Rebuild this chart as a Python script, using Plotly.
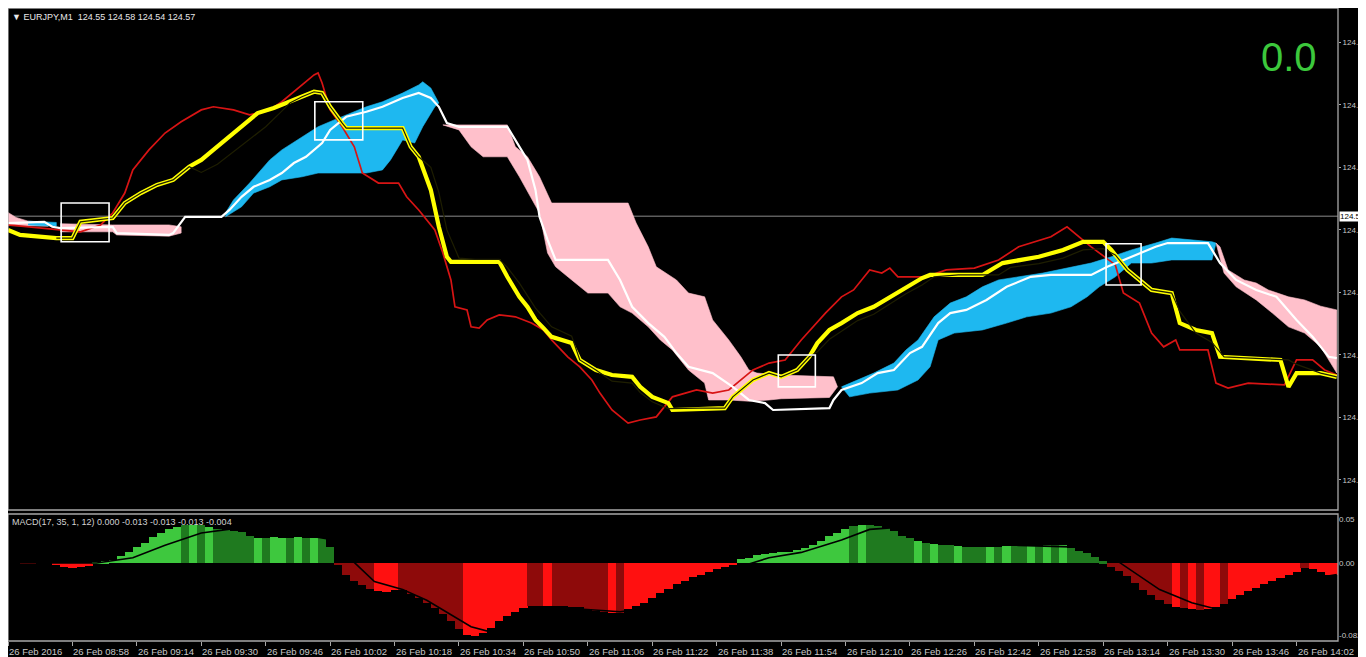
import plotly.graph_objects as go

# the page body has an 8px margin; the figure starts at (8, 8) of the window
OFF = 8
W, H = 1366 - OFF, 657 - OFF

# ---------------- time axis (minutes after 08:42, M1 bars) ----------------
tick_minutes = [0, 16, 32, 48, 64, 80, 96, 112, 128, 144, 160, 176, 192, 208, 224, 240, 256, 272, 288, 304, 320]
tick_labels = ["26 Feb 2016", "26 Feb 08:58", "26 Feb 09:14", "26 Feb 09:30", "26 Feb 09:46",
               "26 Feb 10:02", "26 Feb 10:18", "26 Feb 10:34", "26 Feb 10:50", "26 Feb 11:06",
               "26 Feb 11:22", "26 Feb 11:38", "26 Feb 11:54", "26 Feb 12:10", "26 Feb 12:26",
               "26 Feb 12:42", "26 Feb 12:58", "26 Feb 13:14", "26 Feb 13:30", "26 Feb 13:46",
               "26 Feb 14:02"]
price_ticks = [124.1, 124.2, 124.3, 124.4, 124.5, 124.6, 124.7, 124.8]
price_tick_text = ["124.1", "124.2", "124.3", "124.4", "124.5", "124.6", "124.7", "124.8"]
macd_ticks = [0.05, 0.0, -0.082]
macd_tick_text = ["0.05", "0.00", "-0.082"]
bid_price = 124.522

# ---------------- red line ----------------
red_t = [0, 8, 13, 18, 23, 26, 29, 31, 35, 39, 43, 48, 51, 56, 60, 65, 68, 73, 76, 77, 78, 80, 83, 86, 88,
         92, 97, 99, 102, 106, 108, 110, 111, 114, 115, 117, 119, 122, 126, 130, 133, 135, 139, 142, 145,
         147, 150, 154, 157, 161, 163, 165, 171, 175, 179, 182, 185, 189, 193, 197, 200, 203, 207, 210,
         214, 217, 219, 221, 228, 233, 240, 246, 251, 259, 263, 266, 269, 275, 277, 281, 284, 287, 290,
         291, 298, 300, 303, 308, 317, 320, 324, 327, 330]
red_p = [124.508, 124.503, 124.500, 124.497, 124.508, 124.527, 124.559, 124.596, 124.628, 124.655, 124.673,
         124.692, 124.697, 124.692, 124.684, 124.692, 124.705, 124.732, 124.748, 124.751, 124.735, 124.692,
         124.665, 124.633, 124.591, 124.575, 124.575, 124.553, 124.532, 124.500, 124.463, 124.420, 124.377,
         124.372, 124.345, 124.343, 124.356, 124.364, 124.361, 124.351, 124.340, 124.324, 124.297, 124.281,
         124.260, 124.239, 124.212, 124.191, 124.196, 124.201, 124.217, 124.233, 124.244, 124.239, 124.244,
         124.260, 124.276, 124.287, 124.292, 124.324, 124.345, 124.367, 124.393, 124.404, 124.436, 124.431,
         124.439, 124.425, 124.425, 124.436, 124.439, 124.452, 124.473, 124.489, 124.505, 124.489, 124.473,
         124.444, 124.399, 124.383, 124.335, 124.313, 124.324, 124.308, 124.308, 124.255, 124.247, 124.255,
         124.252, 124.292, 124.292, 124.276, 124.268]

# ---------------- thick yellow line ----------------
yel_t = [0, 3, 12, 16, 18, 26, 29, 33, 37, 41, 45, 48, 51, 55, 58, 62, 66, 69, 73, 76, 78, 80, 83, 84, 98,
         100, 102, 105, 107, 109, 110, 122, 124, 127, 129, 131, 133, 135, 140, 142, 146, 150, 155, 157, 160,
         164, 165, 178, 180, 182, 185, 189, 192, 196, 199, 201, 204, 207, 211, 215, 220, 223, 227, 229, 242,
         247, 256, 262, 267, 272, 274, 278, 281, 284, 289, 291, 295, 299, 301, 309, 316, 318, 320, 326, 330]
yel_p = [124.500, 124.492, 124.487, 124.487, 124.513, 124.519, 124.543, 124.559, 124.572, 124.580, 124.601,
         124.612, 124.628, 124.649, 124.665, 124.687, 124.695, 124.703, 124.713, 124.721, 124.719, 124.697,
         124.671, 124.663, 124.663, 124.633, 124.617, 124.564, 124.505, 124.457, 124.449, 124.449, 124.425,
         124.393, 124.377, 124.356, 124.343, 124.329, 124.319, 124.292, 124.276, 124.268, 124.265, 124.249,
         124.233, 124.223, 124.212, 124.215, 124.233, 124.244, 124.260, 124.271, 124.265, 124.276, 124.297,
         124.319, 124.340, 124.351, 124.367, 124.377, 124.396, 124.409, 124.423, 124.428, 124.428, 124.447,
         124.457, 124.468, 124.481, 124.481, 124.468, 124.436, 124.420, 124.404, 124.399, 124.351, 124.340,
         124.335, 124.297, 124.295, 124.292, 124.249, 124.271, 124.271, 124.265]

# ---------------- thin dark line (shows as a dark core where it runs on the yellow line) ----------------
kij_t = [12, 16, 18, 26, 29, 33, 37, 41, 45, 48, 52, 56, 60, 64, 68, 70, 73, 76, 78, 80, 83, 84, 98, 100,
         102, 105, 107, 109, 112, 116, 122, 124, 127, 129, 131, 133, 135, 140, 142, 146, 150, 155, 157, 160,
         164, 172, 178, 180, 182, 185, 189, 192, 196, 199, 201, 204, 207, 211, 215, 220, 223, 227, 230, 236,
         246, 249, 256, 262, 267, 272, 275, 278, 281, 284, 289, 291, 295, 299, 302, 309, 316, 318, 320, 326, 330]
kij_p = [124.487, 124.487, 124.513, 124.519, 124.543, 124.559, 124.572, 124.580, 124.601, 124.592, 124.605,
         124.625, 124.645, 124.665, 124.690, 124.703, 124.713, 124.721, 124.719, 124.697, 124.671, 124.663,
         124.663, 124.633, 124.617, 124.600, 124.560, 124.500, 124.455, 124.453, 124.453, 124.440, 124.415,
         124.395, 124.375, 124.360, 124.345, 124.330, 124.292, 124.276, 124.258, 124.255, 124.240, 124.225,
         124.214, 124.215, 124.215, 124.233, 124.244, 124.260, 124.271, 124.265, 124.276, 124.297, 124.305,
         124.325, 124.338, 124.355, 124.365, 124.385, 124.398, 124.412, 124.425, 124.428, 124.428, 124.440,
         124.446, 124.455, 124.468, 124.470, 124.460, 124.436, 124.420, 124.404, 124.399, 124.370, 124.335,
         124.320, 124.297, 124.295, 124.292, 124.292, 124.285, 124.271, 124.265]

# ---------------- white line ----------------
wht_t = [0, 9, 11, 13, 26, 27, 40, 41, 44, 53, 55, 58, 61, 65, 68, 71, 74, 78, 80, 84, 89, 93, 98, 102, 105,
         107, 109, 112, 124, 127, 129, 131, 132, 134, 136, 149, 152, 155, 159, 163, 166, 169, 175, 180, 184,
         188, 190, 204, 205, 207, 212, 216, 220, 224, 227, 231, 234, 238, 243, 248, 254, 259, 269, 273, 279,
         285, 288, 298, 301, 305, 310, 315, 320, 324, 328, 330]
wht_p = [124.511, 124.513, 124.505, 124.503, 124.505, 124.495, 124.492, 124.495, 124.521, 124.521, 124.532,
         124.553, 124.569, 124.580, 124.591, 124.607, 124.617, 124.639, 124.660, 124.681, 124.689, 124.697,
         124.711, 124.719, 124.711, 124.697, 124.671, 124.665, 124.665, 124.633, 124.612, 124.564, 124.521,
         124.484, 124.452, 124.452, 124.420, 124.377, 124.351, 124.329, 124.303, 124.281, 124.271, 124.249,
         124.228, 124.223, 124.212, 124.215, 124.228, 124.244, 124.255, 124.271, 124.276, 124.303, 124.313,
         124.351, 124.367, 124.372, 124.388, 124.409, 124.425, 124.428, 124.428, 124.441, 124.457, 124.473,
         124.479, 124.479, 124.447, 124.420, 124.404, 124.393, 124.356, 124.329, 124.297, 124.295]

# ---------------- cloud patches ----------------
pink0_top_t = [0, 2, 5, 10]
pink0_top_p = [124.528, 124.520, 124.514, 124.512]
pink0_bot_t = [0, 10]
pink0_bot_p = [124.507, 124.506]

blue0_top_t = [5, 12]
blue0_top_p = [124.514, 124.512]
blue0_bot_t = [5, 12]
blue0_bot_p = [124.508, 124.506]

pink1_top_t = [13, 26, 40, 43]
pink1_top_p = [124.510, 124.508, 124.508, 124.505]
pink1_bot_t = [13, 26, 27, 40, 43]
pink1_bot_p = [124.497, 124.497, 124.492, 124.490, 124.495]

blue1_top_t = [54, 56, 60, 65, 68, 73, 77, 81, 85, 89, 93, 98, 102, 103, 105, 107]
blue1_top_p = [124.527, 124.548, 124.575, 124.612, 124.628, 124.649, 124.665, 124.676, 124.687, 124.697,
               124.705, 124.719, 124.732, 124.737, 124.727, 124.703]
blue1_bot_t = [54, 58, 61, 65, 68, 73, 77, 89, 93, 95, 98, 101, 103, 106, 107]
blue1_bot_p = [124.521, 124.537, 124.559, 124.569, 124.580, 124.585, 124.591, 124.591, 124.596, 124.612,
               124.644, 124.639, 124.665, 124.697, 124.703]

pink2_top_t = [108, 124, 126, 129, 132, 135, 154, 156, 159, 161, 166, 169, 173, 175, 179, 182, 184, 186, 192, 205, 206]
pink2_top_p = [124.668, 124.668, 124.633, 124.617, 124.585, 124.543, 124.543, 124.511, 124.473, 124.441, 124.420,
               124.399, 124.393, 124.356, 124.324, 124.297, 124.276, 124.271, 124.268, 124.265, 124.249]
pink2_bot_t = [108, 112, 115, 118, 124, 127, 132, 134, 136, 140, 144, 149, 152, 155, 159, 162, 165, 169, 173,
               174, 179, 184, 189, 192, 204, 206]
pink2_bot_p = [124.668, 124.660, 124.633, 124.617, 124.617, 124.585, 124.527, 124.463, 124.441, 124.420, 124.399,
               124.399, 124.377, 124.367, 124.345, 124.324, 124.308, 124.276, 124.255, 124.228, 124.228, 124.226,
               124.228, 124.230, 124.232, 124.249]

blue2_top_t = [207, 210, 215, 220, 223, 226, 230, 234, 238, 242, 246, 257, 269, 274, 279, 285, 289, 299, 300]
blue2_top_p = [124.249, 124.257, 124.271, 124.287, 124.308, 124.324, 124.361, 124.383, 124.393, 124.409, 124.420,
               124.431, 124.447, 124.457, 124.468, 124.479, 124.487, 124.481, 124.479]
blue2_bot_t = [207, 209, 214, 221, 226, 229, 231, 235, 242, 248, 253, 259, 264, 268, 271, 275, 279, 284, 289, 299, 300]
blue2_bot_p = [124.249, 124.233, 124.239, 124.244, 124.260, 124.281, 124.324, 124.335, 124.340, 124.351, 124.361,
               124.367, 124.377, 124.393, 124.409, 124.425, 124.447, 124.447, 124.452, 124.452, 124.479]

pink3_top_t = [300, 301, 303, 307, 310, 313, 318, 322, 326, 330]
pink3_top_p = [124.479, 124.473, 124.436, 124.420, 124.415, 124.404, 124.393, 124.388, 124.378, 124.372]
pink3_bot_t = [300, 302, 305, 310, 314, 318, 322, 326, 328, 330]
pink3_bot_p = [124.479, 124.431, 124.409, 124.388, 124.367, 124.345, 124.335, 124.313, 124.292, 124.271]

# ---------------- marker boxes ----------------
box_t0 = [13.2, 76.2, 191.3, 272.7]
box_t1 = [25.1, 88.1, 200.5, 281.4]
box_p0 = [124.481, 124.644, 124.249, 124.412]
box_p1 = [124.543, 124.705, 124.300, 124.478]

# ---------------- MACD histogram (one bar per 2 minutes) ----------------
macd_t = list(range(0, 331, 2))
macd_v = [0, 0, -0.001, -0.001, 0, 0, -0.002, -0.004, -0.006, -0.005, -0.003,
          0.001, 0.002, 0.003, 0.008, 0.013, 0.018, 0.023, 0.029, 0.034, 0.038,
          0.041, 0.043, 0.043, 0.043, 0.041, 0.039, 0.037, 0.036, 0.035, 0.031,
          0.028, 0.028, 0.029, 0.028, 0.028, 0.029, 0.028, 0.028, 0.028, 0.018,
          -0.002, -0.013, -0.020, -0.025, -0.029, -0.032, -0.033, -0.031, -0.031, -0.035,
          -0.040, -0.045, -0.051, -0.058, -0.065, -0.074, -0.081, -0.083, -0.079, -0.073,
          -0.066, -0.060, -0.055, -0.051, -0.049, -0.048, -0.048, -0.048, -0.049, -0.050,
          -0.050, -0.052, -0.054, -0.055, -0.056, -0.056, -0.052, -0.049, -0.045, -0.040,
          -0.034, -0.029, -0.024, -0.020, -0.016, -0.013, -0.010, -0.007, -0.005, -0.002,
          0.004, 0.006, 0.009, 0.010, 0.011, 0.012, 0.013, 0.015, 0.017, 0.020,
          0.025, 0.030, 0.034, 0.038, 0.042, 0.043, 0.043, 0.042, 0.040, 0.036,
          0.031, 0.028, 0.025, 0.023, 0.021, 0.020, 0.020, 0.019, 0.018, 0.018,
          0.018, 0.018, 0.018, 0.019, 0.019, 0.019, 0.019, 0.019, 0.020, 0.020,
          0.020, 0.017, 0.014, 0.011, 0.007, 0.002, -0.004, -0.009, -0.015, -0.022,
          -0.030, -0.036, -0.042, -0.046, -0.050, -0.051, -0.052, -0.053, -0.052, -0.050,
          -0.046, -0.041, -0.036, -0.032, -0.028, -0.024, -0.020, -0.017, -0.014, -0.010,
          -0.006, -0.007, -0.010, -0.013, -0.014]
macd_code = ("RRRRRRRRRRR" + "GGGGGGGGGGG" + "gGgG" + "ggggg" + "GgGGgGgG" + "gg" +
             "rrrrr" + "RRR" + "rrrrrrrr" + "RRRRRRRR" + "rr" + "R" + "rrrrrrr" + "Rr" +
             "RRRRRRRRRRRRRR" + "GGGGGGGGGGGGGG" + "gG" + "gggggg" + "GgG" + "gg" + "G" + "ggg" +
             "GgG" + "gg" + "GgGgG" + "ggggg" + "rrrrrrrr" + "RrRr" + "RR" + "r" + "RRRRRRRRR" + "r" + "RRRR")
sig_t = [0, 22, 31, 39, 48, 58, 63, 73, 81, 85, 91, 98, 104, 110, 115, 120, 125, 132, 142, 152, 160, 167,
         174, 182, 189, 197, 207, 214, 220, 227, 236, 251, 266, 273, 279, 286, 294, 300, 306, 313, 321, 330]
sig_v = [0.0, 0.0, 0.006, 0.020, 0.034, 0.040, 0.038, 0.032, 0.026, 0.005, -0.021, -0.030, -0.042, -0.058,
         -0.072, -0.078, -0.070, -0.058, -0.052, -0.055, -0.050, -0.035, -0.018, -0.004, 0.006, 0.012, 0.026,
         0.038, 0.040, 0.033, 0.024, 0.020, 0.018, 0.010, -0.008, -0.030, -0.045, -0.052, -0.047, -0.032,
         -0.020, -0.013]

# ---------------- colours ----------------
C_RED = "#D81414"
C_YEL = "#FFFF00"
C_BLUE = "#1EB8F0"
C_PINK = "#FFC0CB"
code_color = {"G": "#3EC83E", "g": "#1F7A1F", "R": "#FF1010", "r": "#8E0A0A"}
FONT = "Liberation Sans"

# ---------------- geometry (window pixels -> paper fractions) ----------------
X0, X1 = 8, 1338
MAIN_TOP, MAIN_BOT = 8, 510
MACD_TOP, MACD_BOT = 514, 641


def px(x):
    return min(1.0, max(0.0, (x - OFF) / W))


def py(y):
    return min(1.0, max(0.0, 1 - (y - OFF) / H))


fig = go.Figure()


def add_cloud(tt, tp, bt, bp, color):
    fig.add_trace(go.Scatter(x=tt + bt[::-1], y=tp + bp[::-1], fill="toself", fillcolor=color,
                             mode="lines", line=dict(width=0.6, color=color), hoverinfo="skip",
                             showlegend=False, xaxis="x", yaxis="y"))


add_cloud(pink0_top_t, pink0_top_p, pink0_bot_t, pink0_bot_p, C_PINK)
add_cloud(blue0_top_t, blue0_top_p, blue0_bot_t, blue0_bot_p, C_BLUE)
add_cloud(pink1_top_t, pink1_top_p, pink1_bot_t, pink1_bot_p, C_PINK)
add_cloud(blue1_top_t, blue1_top_p, blue1_bot_t, blue1_bot_p, C_BLUE)
add_cloud(pink2_top_t, pink2_top_p, pink2_bot_t, pink2_bot_p, C_PINK)
add_cloud(blue2_top_t, blue2_top_p, blue2_bot_t, blue2_bot_p, C_BLUE)
add_cloud(pink3_top_t, pink3_top_p, pink3_bot_t, pink3_bot_p, C_PINK)

fig.add_trace(go.Scatter(x=red_t, y=red_p, mode="lines", line=dict(color=C_RED, width=1.7),
                         showlegend=False, xaxis="x", yaxis="y"))
fig.add_trace(go.Scatter(x=wht_t, y=wht_p, mode="lines", line=dict(color="#FFFFFF", width=2.2),
                         showlegend=False, xaxis="x", yaxis="y"))
fig.add_trace(go.Scatter(x=yel_t, y=yel_p, mode="lines", line=dict(color=C_YEL, width=4.2),
                         showlegend=False, xaxis="x", yaxis="y"))
fig.add_trace(go.Scatter(x=kij_t, y=kij_p, mode="lines", line=dict(color="#1E1E00", width=1.2),
                         showlegend=False, xaxis="x", yaxis="y"))

# MACD
fig.add_trace(go.Bar(x=macd_t, y=macd_v, width=2.05,
                     marker=dict(color=[code_color[c] for c in macd_code], line=dict(width=0)),
                     showlegend=False, xaxis="x2", yaxis="y2"))
fig.add_trace(go.Scatter(x=sig_t, y=sig_v, mode="lines", line=dict(color="#000000", width=1.6),
                         showlegend=False, xaxis="x2", yaxis="y2"))

shapes = []
shapes.append(dict(type="line", xref="x", yref="y", x0=0, x1=330.3, y0=bid_price, y1=bid_price,
                   line=dict(color="#8a8a8a", width=1), layer="below"))
for a, b, c, d in zip(box_t0, box_t1, box_p0, box_p1):
    shapes.append(dict(type="rect", xref="x", yref="y", x0=a, x1=b, y0=c, y1=d,
                       line=dict(color="#FFFFFF", width=1.6)))
for top, bot in [(MAIN_TOP, MAIN_BOT), (MACD_TOP, MACD_BOT)]:
    shapes.append(dict(type="rect", xref="paper", yref="paper", x0=px(X0), x1=px(X1), y0=py(bot), y1=py(top),
                       line=dict(color="#A8A8A8", width=1.3)))

annotations = []
for m, lab in zip(tick_minutes, tick_labels):
    annotations.append(dict(x=m, xref="x2", y=py(651), yref="paper", text=lab, showarrow=False,
                            xanchor="left", yanchor="middle", xshift=-1,
                            font=dict(family=FONT, size=9.5, color="#C8C8C8")))
annotations.append(dict(x=px(10), y=py(17), xref="paper", yref="paper", showarrow=False,
                        text="▼ EURJPY,M1  124.55 124.58 124.54 124.57", xanchor="left", yanchor="middle",
                        font=dict(family=FONT, size=9, color="#E8E8E8")))
annotations.append(dict(x=px(10), y=py(522), xref="paper", yref="paper", showarrow=False,
                        text="MACD(17, 35, 1, 12) 0.000 -0.013 -0.013 -0.013 -0.004", xanchor="left",
                        yanchor="middle", font=dict(family=FONT, size=9, color="#D0D0D0")))
annotations.append(dict(x=px(1319), y=py(57), xref="paper", yref="paper", showarrow=False, text="0.0",
                        xanchor="right", yanchor="middle",
                        font=dict(family=FONT, size=40, color="#3CC83C")))
annotations.append(dict(x=px(1339), y=bid_price, xref="paper", yref="y", showarrow=False, text="124.5",
                        xanchor="left", yanchor="middle", bgcolor="#FFFFFF", borderpad=0,
                        font=dict(family=FONT, size=8, color="#000000")))

axis_font = dict(family=FONT, size=8, color="#C8C8C8")
fig.update_layout(
    width=W, height=H, margin=dict(l=0, r=0, t=0, b=0),
    paper_bgcolor="#000000", plot_bgcolor="#000000",
    showlegend=False, bargap=0, barmode="overlay",
    shapes=shapes, annotations=annotations,
    xaxis=dict(domain=[px(X0), px(X1)], range=[0, 330.3], anchor="y", showgrid=False, zeroline=False,
               showticklabels=False, ticks="", showline=False, fixedrange=True),
    yaxis=dict(domain=[py(MAIN_BOT), py(MAIN_TOP)], range=[124.052, 124.855], anchor="x", side="right",
               tickvals=price_ticks, ticktext=price_tick_text, ticks="outside", ticklen=2,
               tickcolor="#A8A8A8", tickfont=axis_font, showgrid=False, zeroline=False, showline=False),
    xaxis2=dict(domain=[px(X0), px(X1)], range=[0, 330.3], anchor="y2", matches="x", showgrid=False,
                zeroline=False, showticklabels=False, tickvals=tick_minutes, ticks="outside", ticklen=4,
                tickcolor="#A8A8A8", showline=False),
    yaxis2=dict(domain=[py(MACD_BOT), py(MACD_TOP)], range=[-0.0881, 0.0554], anchor="x2", side="right",
                tickvals=macd_ticks, ticktext=macd_tick_text, ticks="", tickfont=axis_font,
                showgrid=False, zeroline=False, showline=False),
)

fig.write_html("out.html")
